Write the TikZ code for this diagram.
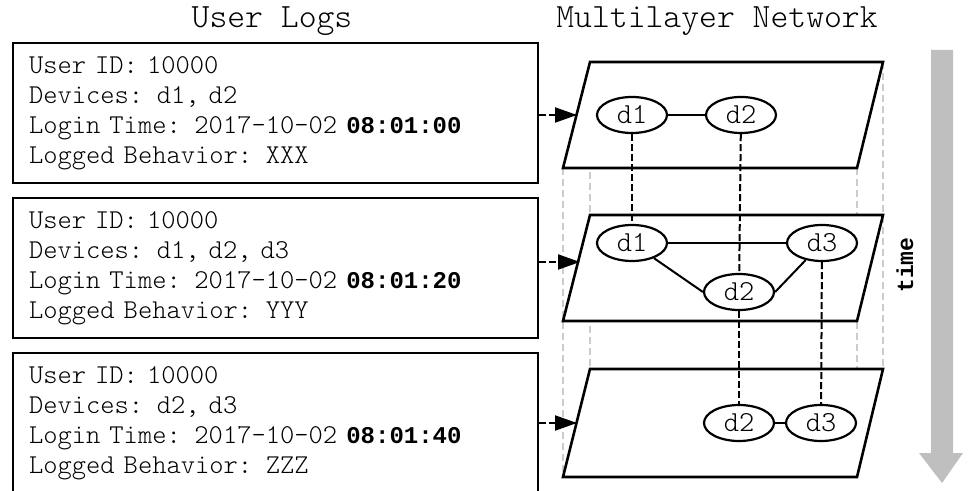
\documentclass[tikz,border=0pt]{standalone}
\usepackage{fontspec}
\setmainfont{lmmonolt10-regular.otf}[BoldFont=lmmonolt10-bold.otf]
\newfontfamily\heavymono{Liberation Mono}
\newcommand\stamp[1]{{\heavymono\bfseries\fontsize{12}{15}\selectfont #1}}
\usetikzlibrary{shapes.geometric,arrows.meta}

\tikzset{
  logbox/.style={draw, line width=1.3pt, minimum height=70pt, text width=246.5pt,
    inner xsep=8pt, align=left, font=\fontsize{13.6}{15}\selectfont},
  plane/.style={draw, line width=1.3pt, fill=white},
  dev/.style={ellipse, draw, fill=white, line width=1.1pt, minimum width=35pt,
    minimum height=18pt, inner sep=0pt, font=\fontsize{14.5}{15}\selectfont},
  link/.style={line width=1pt},
  hop/.style={line width=1pt, dash pattern=on 3.5pt off 1.5pt},
  guide/.style={line width=0.75pt, draw=black!20, dash pattern=on 3.5pt off 2pt},
  feed/.style={line width=1pt, dash pattern=on 3.5pt off 1.5pt,
    -{Triangle[length=11pt,width=7.5pt]}},
  title/.style={font=\fontsize{17}{19}\selectfont, anchor=base},
}

\begin{document}
\begin{tikzpicture}[x=0.5pt, y=-0.5pt]
\useasboundingbox (0,0) rectangle (968,491);

% titles
\node[title] (logtitle) at (272,28) {User Logs};
\node[title] (nettitle) at (717,28) {Multilayer Network};

% log entries
\node[logbox] (log1) at (275.5,113) {User ID: 10000\\Devices: d1, d2\\Login Time: 2017-10-02 \stamp{08:01:00}\\Logged Behavior: XXX};
\node[logbox] (log2) at (275.5,268) {User ID: 10000\\Devices: d1, d2, d3\\Login Time: 2017-10-02 \stamp{08:01:20}\\Logged Behavior: YYY};
\node[logbox] (log3) at (275.5,423) {User ID: 10000\\Devices: d2, d3\\Login Time: 2017-10-02 \stamp{08:01:40}\\Logged Behavior: ZZZ};

% guides behind the layers
\draw[guide] (563,168) -- (563,477);
\draw[guide] (590,62) -- (590,369);
\draw[guide] (857,168) -- (857,477);
\draw[guide] (883,62) -- (883,369);

% layers
\foreach \y/\h in {62/106,215/106,369/108}
  \draw[plane] (590,\y) -- ++(293,0) -- ++(-26,\h) -- ++(-294,0) -- cycle;

% devices
\node[dev] (a1) at (632,115) {d1};
\node[dev] (a2) at (741,115) {d2};
\node[dev] (b1) at (632,243) {d1};
\node[dev] (b3) at (822,243) {d3};
\node[dev] (b2) at (739,292) {d2};
\node[dev] (c2) at (739,423) {d2};
\node[dev] (c3) at (821,423) {d3};

% links in a layer
\draw[link] (a1) -- (a2);
\draw[link] (b1) -- (b3);
\draw[link] (b1) -- (b2.west);
\draw[link] (b3) -- (b2.east);
\draw[link] (c2) -- (c3);

% same device across layers
\draw[hop] (a1) -- (b1);
\draw[hop] (a2) -- (b2);
\draw[hop] (b2) -- (c2);
\draw[hop] (b3) -- (c3);

% log -> layer
\coordinate (in1) at (577,115);
\coordinate (in2) at (580,262);
\coordinate (in3) at (577,423);
\draw[feed] (log1.east |- in1) -- (in1);
\draw[feed] (log2.east |- in2) -- (in2);
\draw[feed] (log3.east |- in3) -- (in3);

% time
\fill[black!25] (931,50) -- (953,50) -- (953,453) -- (963,453) -- (942,483)
  -- (919,453) -- (931,453) -- cycle;
\node[rotate=90, font=\heavymono\bfseries\fontsize{11.5}{14}\selectfont] (timelabel) at (905,265) {time};
\end{tikzpicture}
\end{document}
